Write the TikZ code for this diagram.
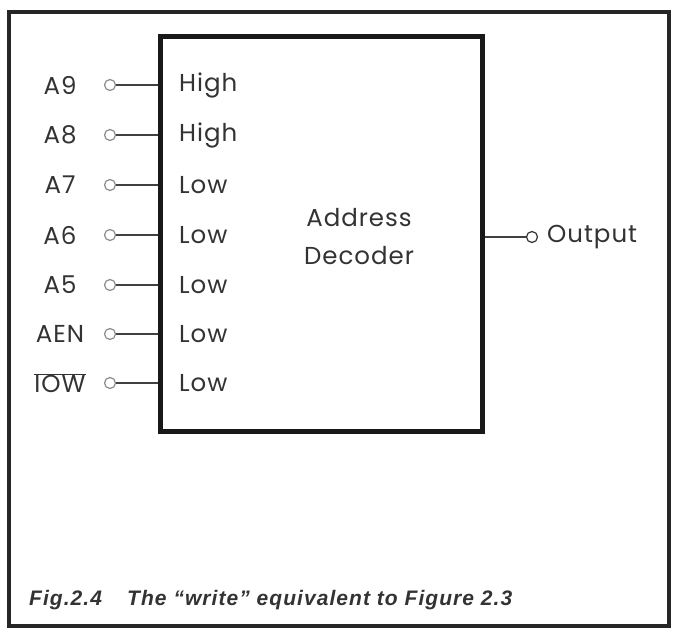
\documentclass[tikz,border=0pt]{standalone}
\usepackage{fontspec}
\setmainfont{Poppins}[LetterSpace=4]
\newfontfamily\capfont{Liberation Sans}[LetterSpace=5]
\begin{document}
\begin{tikzpicture}[x=1pt,y=-1pt,
  sig/.style={font=\fontsize{24.5}{28}\selectfont, text=black!80, inner sep=0pt},
  lvl/.style={sig, anchor=west},
  pinc/.style={circle, draw=black!45, line width=1.2pt, minimum size=11pt, inner sep=0pt},
  wire/.style={draw=black!75, line width=1.3pt},
  frame/.style={draw=black!85, line width=3.5pt},
  block/.style={draw=black!90, line width=5pt, inner sep=0pt, minimum width=322pt, minimum height=395pt},
  captxt/.style={anchor=west, inner sep=0pt, text=black!80, font=\capfont\bfseries\itshape\fontsize{21}{24}\selectfont}]
\useasboundingbox (0,0) rectangle (673,631);
\fill[white] (0,0) rectangle (673,631);
% outer frame
\draw[frame] (9,12) rectangle (669,626);
% decoder block
\node[block] (dec) at (321,234.5) {};
\node[sig] (t1) at (359,218) {Address};
\node[sig] (t2) at (359,256) {Decoder};
% input lines
\foreach \nm/\lab/\lv/\y in {a9/A9/High/85, a8/A8/High/135, a7/A7/Low/185, a6/A6/Low/235, a5/A5/Low/285, aen/AEN/Low/334, iow/{$\overline{\hbox{IOW}}$}/Low/383} {
  \node[sig] (l\nm) at (60,\y) {\lab};
  \node[pinc] (c\nm) at (110,\y) {};
  \draw[wire] (c\nm) -- (c\nm -| dec.west);
  \node[lvl] (v\nm) at (179,\y) {\lv};
}
% output
\node[pinc, draw=black!80] (cout) at (532,237) {};
\draw[wire] (cout -| dec.east) -- (cout);
\node[sig, anchor=west] (lout) at (547,237) {Output};
% caption
\node[captxt] (capno) at (29,600) {Fig.2.4};
\node[captxt] (cap) at (127,600) {The “write” equivalent to Figure 2.3};
\end{tikzpicture}
\end{document}
